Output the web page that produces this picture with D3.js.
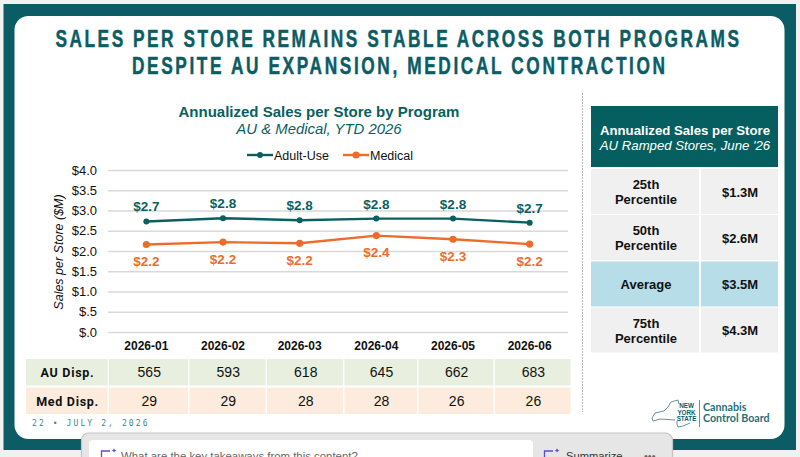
<!DOCTYPE html>
<html>
<head>
<meta charset="utf-8">
<script src="https://cdn.jsdelivr.net/npm/d3@7"></script>
<style>
  html, body { margin: 0; padding: 0; background: #f1f1f1; overflow: hidden; }
  text { font-family: "Liberation Sans", Arial, sans-serif; }
</style>
</head>
<body>
<div id="chart"></div>
<script>
const months = ["2026-01", "2026-02", "2026-03", "2026-04", "2026-05", "2026-06"];
const adultUse = [2.73, 2.81, 2.76, 2.80, 2.80, 2.70];
const medical = [2.16, 2.22, 2.19, 2.38, 2.29, 2.17];
const auDisp = [565, 593, 618, 645, 662, 683];
const medDisp = [29, 29, 28, 28, 26, 26];
const yTicks = [0, 0.5, 1, 1.5, 2, 2.5, 3, 3.5, 4];
const statLabels = [["25th", "Percentile"], ["50th", "Percentile"], ["Average"], ["75th", "Percentile"]];
const statValues = ["$1.3M", "$2.6M", "$3.5M", "$4.3M"];

const teal = "#0b5c64", chartTeal = "#0a5f60", orange = "#ee6c2b";

const svg = d3.select("#chart").append("svg")
    .attr("width", 800)
    .attr("height", 457)
    .style("display", "block");

// slide frame
svg.append("rect").attr("x", 3.5).attr("y", 4).attr("width", 792.5).attr("height", 446).attr("fill", teal);
svg.append("rect").attr("x", 14.5).attr("y", 16).attr("width", 770).attr("height", 423).attr("rx", 14).attr("fill", "#fff");

// slide title, squeezed since no condensed face is installed
const titleLines = ["SALES PER STORE REMAINS STABLE ACROSS BOTH PROGRAMS", "DESPITE AU EXPANSION, MEDICAL CONTRACTION"];
const titleX = [[55.5, 739], [132, 665]];
const squeeze = 0.72;
titleLines.forEach((t, i) => {
    svg.append("text")
        .attr("transform", "translate(" + titleX[i][0] + "," + (47 + i * 26.5) + ") scale(" + squeeze + ",1)")
        .attr("textLength", (titleX[i][1] - titleX[i][0]) / squeeze)
        .attr("lengthAdjust", "spacing")
        .attr("font-size", 24)
        .attr("font-weight", "bold")
        .attr("fill", teal)
        .attr("stroke", teal)
        .attr("stroke-width", 0.5)
        .text(t);
});

// chart title
svg.append("text").attr("x", 319).attr("y", 117).attr("text-anchor", "middle")
    .attr("font-size", 15).attr("font-weight", "bold").attr("fill", chartTeal)
    .text("Annualized Sales per Store by Program");
svg.append("text").attr("x", 319).attr("y", 134).attr("text-anchor", "middle")
    .attr("font-size", 14.9).attr("font-style", "italic").attr("fill", chartTeal)
    .text("AU & Medical, YTD 2026");

// scales
const margin = { top: 170, right: 232, bottom: 125, left: 108 };
const x = d3.scaleBand().domain(months).range([margin.left, 800 - margin.right]);
const y = d3.scaleLinear().domain([0, 4]).range([457 - margin.bottom, margin.top]);
const cx = m => x(m) + x.bandwidth() / 2;

// y axis with gridlines
const yAxis = svg.append("g")
    .attr("transform", "translate(" + margin.left + ",0)")
    .call(d3.axisLeft(y).tickValues(yTicks).tickFormat(d => "$" + d3.format(".1f")(d).replace(/^0/, "")).tickSize(-(800 - margin.left - margin.right)).tickPadding(11));
yAxis.select(".domain").remove();
yAxis.selectAll(".tick line").attr("stroke", "#d9d9d9").attr("stroke-width", 1.3);
yAxis.selectAll(".tick text").attr("font-size", 13).attr("fill", "#111").style("font-family", "'Liberation Sans', sans-serif");

svg.append("text")
    .attr("transform", "translate(63,252) rotate(-90)")
    .attr("text-anchor", "middle")
    .attr("font-size", 12.5).attr("font-style", "italic").attr("fill", "#111")
    .text("Sales per Store ($M)");

// x axis
const xAxis = svg.append("g")
    .attr("transform", "translate(0," + (457 - margin.bottom) + ")")
    .call(d3.axisBottom(x).tickSize(0).tickPadding(9));
xAxis.select(".domain").remove();
xAxis.selectAll(".tick text").attr("font-size", 12).attr("font-weight", "bold").attr("fill", "#111").style("font-family", "'Liberation Sans', sans-serif");

// lines
const line = d3.line().x((d, i) => cx(months[i])).y(d => y(d));
const series = [
    { name: "Adult-Use", values: adultUse, color: chartTeal, r: 3, dy: -10 },
    { name: "Medical", values: medical, color: orange, r: 3.6, dy: 21.5 }
];
series.forEach(s => {
    svg.append("path").datum(s.values)
        .attr("d", line).attr("fill", "none").attr("stroke", s.color).attr("stroke-width", 2.4);
    svg.selectAll(".dot-" + s.name).data(s.values).enter().append("circle")
        .attr("cx", (d, i) => cx(months[i])).attr("cy", d => y(d)).attr("r", s.r).attr("fill", s.color);
    svg.selectAll(".lab-" + s.name).data(s.values).enter().append("text")
        .attr("x", (d, i) => cx(months[i])).attr("y", d => y(d) + s.dy)
        .attr("text-anchor", "middle").attr("font-size", 13.5).attr("font-weight", "bold").attr("fill", s.color)
        .text(d => "$" + d.toFixed(1));
});

// legend
const legendX = [247, 343];
series.forEach((s, i) => {
    const g = svg.append("g").attr("transform", "translate(" + legendX[i] + ",155)");
    g.append("line").attr("x1", 0).attr("x2", 26).attr("stroke", s.color).attr("stroke-width", 2.4);
    g.append("circle").attr("cx", 13).attr("r", s.r).attr("fill", s.color);
    g.append("text").attr("x", 27).attr("y", 5).attr("font-size", 12.5).attr("fill", "#111").text(s.name);
});

// dispensary table under the chart
const colEdges = [26, 109, 189.5, 267, 344.5, 418.5, 494.8, 572];
const dispRows = [
    { label: "AU Disp.", values: auDisp, fill: "#e9efdf", top: 359, h: 26.5 },
    { label: "Med Disp.", values: medDisp, fill: "#fdebdd", top: 387.5, h: 26.5 }
];
dispRows.forEach(r => {
    [r.label].concat(r.values).forEach((v, i) => {
        svg.append("rect").attr("x", colEdges[i]).attr("y", r.top)
            .attr("width", colEdges[i + 1] - colEdges[i] - 1.4).attr("height", r.h).attr("fill", r.fill);
        svg.append("text")
            .attr("x", (colEdges[i] + colEdges[i + 1]) / 2).attr("y", r.top + r.h / 2 + 5)
            .attr("text-anchor", "middle")
            .attr("font-size", i ? 14 : 12.5)
            .attr("font-weight", i ? "normal" : "bold")
            .attr("letter-spacing", i ? 0 : 0.7)
            .attr("fill", "#111")
            .style("font-family", i ? null : "Roboto, sans-serif")
            .text(v);
    });
});

// divider
svg.append("line").attr("x1", 582.5).attr("x2", 582.5).attr("y1", 93).attr("y2", 412)
    .attr("stroke", "#bdbdbd").attr("stroke-dasharray", "2,1");

// right table
svg.append("rect").attr("x", 591).attr("y", 106).attr("width", 187).attr("height", 61).attr("fill", "#055f60");
svg.append("text").attr("x", 685).attr("y", 135).attr("text-anchor", "middle")
    .attr("font-size", 13.2).attr("font-weight", "bold").attr("fill", "#fff").text("Annualized Sales per Store");
svg.append("text").attr("x", 685).attr("y", 150).attr("text-anchor", "middle")
    .attr("font-size", 13.2).attr("font-style", "italic").attr("fill", "#fff").text("AU Ramped Stores, June '26");

const statTop = [169, 215, 261.5, 307.5];
const statH = 45;
statLabels.forEach((lines, i) => {
    const fill = lines[0] === "Average" ? "#b7dde8" : "#f0f0f0";
    svg.append("rect").attr("x", 591).attr("y", statTop[i]).attr("width", 108).attr("height", statH).attr("fill", fill);
    svg.append("rect").attr("x", 701).attr("y", statTop[i]).attr("width", 77).attr("height", statH).attr("fill", fill);
    lines.forEach((l, j) => {
        svg.append("text").attr("x", 646).attr("y", statTop[i] + statH / 2 + 5 + (j - (lines.length - 1) / 2) * 15)
            .attr("text-anchor", "middle").attr("font-size", 13).attr("font-weight", "bold").attr("fill", "#111").text(l);
    });
    svg.append("text").attr("x", 740).attr("y", statTop[i] + statH / 2 + 5)
        .attr("text-anchor", "middle").attr("font-size", 13).attr("font-weight", "bold").attr("fill", "#111").text(statValues[i]);
});

// footer date
svg.append("text").attr("x", 32).attr("y", 426)
    .attr("font-size", 8).attr("letter-spacing", 2.1).attr("fill", "#3b8590")
    .style("font-family", "'DejaVu Sans Mono', monospace")
    .text("22 • JULY 2, 2026");

// logo
svg.append("path")
    .attr("d", "M652 418 L655 413 L664 411 L668 407 L671 402 L678 400 L679 404 M677 421 L677 424 L678 427 L683 426 L690 423 M675 420 L660 419 L653 421 L652 418")
    .attr("fill", "none").attr("stroke", "#4f8a90").attr("stroke-width", 0.9);
["NEW", "YORK", "STATE"].forEach((t, i) => {
    svg.append("text").attr("x", 686.5).attr("y", 408 + i * 6.5).attr("text-anchor", "middle")
        .attr("font-size", 6.3).attr("font-weight", "bold").attr("fill", teal).text(t);
});
svg.append("line").attr("x1", 699.5).attr("x2", 699.5).attr("y1", 400).attr("y2", 427).attr("stroke", "#4f8a90").attr("stroke-width", 0.9);
["Cannabis", "Control Board"].forEach((t, i) => {
    svg.append("text").attr("x", 703).attr("y", 411 + i * 11)
        .attr("font-size", 10.7).attr("font-weight", "bold").attr("fill", "#1f7078")
        .style("font-family", "Lato, sans-serif").text(t);
});

// floating prompt bar over the slide
svg.append("rect").attr("x", 81.5).attr("y", 433).attr("width", 591).attr("height", 40).attr("rx", 7)
    .attr("fill", "#e6e6e6").attr("stroke", "#c4c4c4").attr("stroke-width", 1.2);
svg.append("rect").attr("x", 89).attr("y", 440).attr("width", 444).attr("height", 30).attr("rx", 4).attr("fill", "#fff");
svg.append("path").attr("d", "M110 451 L101.5 451 L101.5 460").attr("fill", "none").attr("stroke", "#5b4bd6").attr("stroke-width", 1.3);
svg.append("text").attr("x", 111).attr("y", 453).attr("font-size", 7).attr("fill", "#5b4bd6").text("✦");
svg.append("text").attr("x", 121).attr("y", 460).attr("font-size", 11.4).attr("fill", "#666")
    .text("What are the key takeaways from this content?");
svg.append("path").attr("d", "M553 451 L544.5 451 L544.5 460").attr("fill", "none").attr("stroke", "#5b4bd6").attr("stroke-width", 1.3);
svg.append("text").attr("x", 554).attr("y", 453).attr("font-size", 7).attr("fill", "#5b4bd6").text("✦");
svg.append("text").attr("x", 566).attr("y", 460).attr("font-size", 11.2).attr("fill", "#333").text("Summarize");
svg.append("text").attr("x", 644).attr("y", 460).attr("font-size", 11).attr("fill", "#666").text("•••");
</script>
</body>
</html>
